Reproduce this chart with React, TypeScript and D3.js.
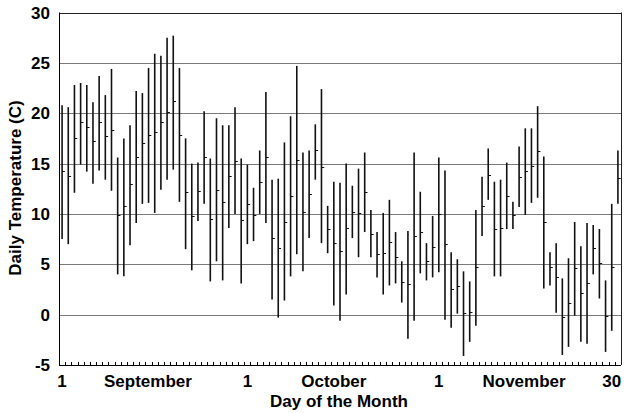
import React from "react";
import * as d3 from "d3";

const days = d3.range(1, 92);

const highs = [
  20.8, 20.6, 22.8, 23.0, 22.8, 21.1, 23.7, 21.8, 24.4, 15.6, 17.5, 18.8, 22.2, 22.0, 24.5,
  25.9, 25.7, 27.5, 27.7, 24.5, 17.5, 15.0, 15.1, 20.2, 15.5, 19.5, 18.8, 18.8, 20.6, 15.5,
  14.9, 12.6, 16.3, 22.1, 13.4, 13.5, 17.1, 19.7, 24.7, 16.1, 16.3, 18.9, 22.4, 10.8, 13.2, 13.1,
  15.0, 12.8, 14.5, 16.1, 10.4, 8.2, 10.1, 11.4, 8.2, 5.3, 8.3, 16.1, 12.2, 7.1, 9.8,
  15.6, 14.3, 6.2, 5.5, 4.3, 3.3, 10.4, 13.7, 16.5, 13.2, 13.4, 15.1, 11.2, 16.7, 18.5,
  18.5, 20.7, 15.7, 6.2, 7.1, 3.6, 5.6, 9.2, 6.8, 9.1, 8.9, 8.5, 3.4, 11.0, 16.3,
];

const lows = [
  7.5, 7.0, 12.1, 14.9, 14.2, 13.0, 14.3, 13.4, 12.3, 4.0, 3.8, 6.9, 9.1, 11.0, 11.1,
  10.1, 12.4, 13.4, 14.4, 11.2, 6.5, 4.4, 9.3, 11.0, 3.3, 5.3, 3.4, 8.6, 10.0, 3.1,
  7.0, 7.3, 10.0, 9.1, 1.5, -0.3, 1.4, 3.8, 6.0, 4.3, 7.6, 13.4, 7.1, 6.1, 0.9, -0.6,
  2.0, 7.6, 5.7, 8.2, 5.7, 3.7, 2.0, 2.9, 3.1, 1.2, -2.4, -0.6, 4.1, 3.4, 3.7,
  4.2, -0.5, -1.3, 0.1, -4.1, -2.7, -1.1, 7.8, 11.4, 3.8, 3.8, 8.5, 8.5, 10.7, 9.9,
  11.1, 11.6, 2.6, 2.9, 0.2, -4.0, -3.2, -0.1, -2.7, -2.9, 4.0, 1.6, -3.7, -1.6, 11.0,
];

const closes = [
  14.3, 13.8, 17.5, 19.1, 18.6, 17.2, 19.1, 17.7, 18.3, 9.9, 10.8, 13.0, 15.7, 17.0, 17.8,
  18.1, 19.1, 20.1, 21.2, 17.8, 12.2, 9.8, 12.3, 15.7, 9.5, 12.4, 11.2, 13.8, 15.3, 9.4,
  11.0, 9.9, 13.2, 15.7, 7.6, 6.6, 9.2, 11.8, 15.4, 10.2, 12.0, 16.3, 14.7, 8.5, 7.1, 6.3,
  8.6, 10.2, 10.1, 12.2, 8.0, 6.0, 6.1, 7.2, 5.7, 3.2, 3.0, 7.8, 8.2, 5.3, 6.7,
  10.0, 7.0, 2.5, 2.8, 0.2, 0.3, 4.7, 10.8, 13.9, 8.5, 8.6, 11.8, 9.9, 13.7, 14.3,
  14.8, 16.2, 9.2, 4.7, 3.7, -0.2, 1.2, 4.6, 2.1, 3.1, 6.6, 5.1, -0.1, 4.7, 13.6,
];

const yTicks = [-5, 0, 5, 10, 15, 20, 25, 30];
const xLabels = ["1", "September", "1", "October", "1", "November", "30"];
const xLabelDays = [1, 14.9, 31, 45, 62, 75.8, 90];

const W = 626;
const H = 413;
const left = 59;
const right = 621;
const top = 12.5;
const bottom = 365;
const font = "'Liberation Sans', Arial, sans-serif";

export default function App() {
  const x = d3.scaleBand<number>().domain(days).range([left, right]).padding(0);
  const xl = d3.scaleLinear().domain([0.5, 91.5]).range([left, right]);
  const y = d3.scaleLinear().domain([-5, 30]).range([bottom, top]);
  const bw = x.bandwidth();
  const cx = (d: number) => (x(d) as number) + bw / 2;

  return (
    <svg
      width={W}
      height={H}
      style={{ position: "absolute", left: 0, top: 0, background: "#fff" }}
    >
      <rect x={0} y={0} width={W} height={H} fill="#fff" />
      {/* grid lines */}
      {yTicks
        .filter((t) => t > -5 && t < 30)
        .map((t) => (
          <line
            key={"g" + t}
            x1={left}
            x2={right}
            y1={Math.round(y(t)) + 0.5}
            y2={Math.round(y(t)) + 0.5}
            stroke="#7a7a7a"
            strokeWidth={1.2}
          />
        ))}
      {/* frame */}
      <line x1={left} x2={right} y1={Math.round(top) + 0.5} y2={Math.round(top) + 0.5} stroke="#222" strokeWidth={1} />
      <line x1={right + 0.5} x2={right + 0.5} y1={top} y2={bottom} stroke="#222" strokeWidth={1} />
      <line x1={left + 0.5} x2={left + 0.5} y1={top} y2={bottom} stroke="#000" strokeWidth={1} />
      <line x1={left} x2={right} y1={bottom + 0.5} y2={bottom + 0.5} stroke="#000" strokeWidth={1} />
      {/* minor ticks at day boundaries */}
      {days.slice(1).map((d) => (
        <line
          key={"t" + d}
          x1={Math.round(x(d) as number) + 0.5}
          x2={Math.round(x(d) as number) + 0.5}
          y1={bottom}
          y2={bottom - 3}
          stroke="#000"
          strokeWidth={1}
        />
      ))}
      {/* high-low bars */}
      {days.map((d, i) => (
        <g key={"b" + d}>
          <line
            x1={cx(d)}
            x2={cx(d)}
            y1={y(highs[i])}
            y2={y(lows[i])}
            stroke="#111"
            strokeWidth={1.6}
          />
          <line
            x1={cx(d)}
            x2={cx(d) + 2.8}
            y1={Math.round(y(closes[i])) + 0.5}
            y2={Math.round(y(closes[i])) + 0.5}
            stroke="#111"
            strokeWidth={1}
          />
        </g>
      ))}
      {/* y tick labels */}
      {yTicks.map((t) => (
        <text
          key={"yl" + t}
          x={50}
          y={y(t) + 6}
          textAnchor="end"
          fontFamily={font}
          fontWeight="bold"
          fontSize={17}
          fill="#000"
        >
          {t}
        </text>
      ))}
      {/* x labels */}
      {xLabels.map((s, i) => (
        <text
          key={"xl" + i}
          x={xl(xLabelDays[i])}
          y={387}
          textAnchor="middle"
          fontFamily={font}
          fontWeight="bold"
          fontSize={17}
          fill="#000"
        >
          {s}
        </text>
      ))}
      <text
        x={339}
        y={407}
        textAnchor="middle"
        fontFamily={font}
        fontWeight="bold"
        fontSize={17}
        fill="#000"
      >
        Day of the Month
      </text>
      <text
        transform={`translate(21,188) rotate(-90)`}
        textAnchor="middle"
        fontFamily={font}
        fontWeight="bold"
        fontSize={17}
        fill="#000"
      >
        Daily Temperature (C)
      </text>
    </svg>
  );
}
